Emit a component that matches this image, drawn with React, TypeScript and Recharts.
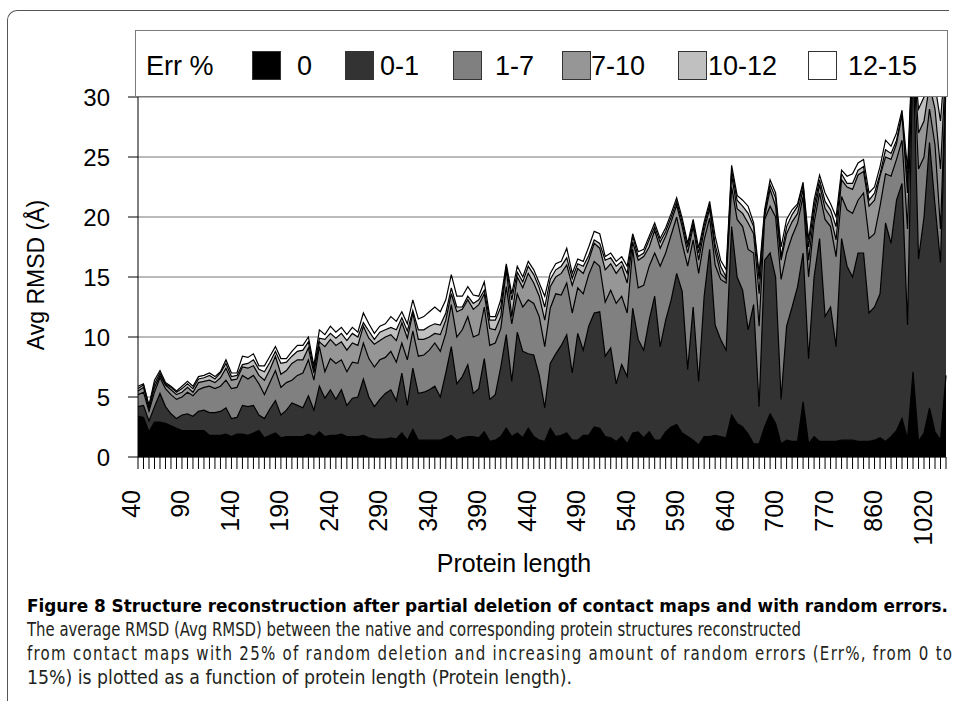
import { AreaChart, Area, XAxis, YAxis, CartesianGrid, Legend, Label } from 'recharts'

const FONT = "'Liberation Sans', Arial, Helvetica, sans-serif"
const CAPTION_FONT = "'DejaVu Sans Condensed', 'Liberation Sans Narrow', 'DejaVu Sans', sans-serif"

// every 9th category carries a label
const tickLabels = ['40', '90', '140', '190', '240', '290', '340', '390', '440', '490', '540', '590', '640', '700', '770', '860', '1020']
const LABEL_EVERY = 9
const yTicks = [0, 5, 10, 15, 20, 25, 30]

// Avg RMSD per error level
const err0 = [
  3.4, 3.3, 2.1, 2.9, 2.9, 2.8, 2.6, 2.4, 2.2, 2.2, 2.2, 2.2, 2.2, 1.8, 1.8, 1.8, 1.9, 1.7, 1.9, 1.9,
  1.8, 2.0, 2.2, 1.6, 1.8, 2.0, 1.6, 1.7, 1.7, 1.7, 1.7, 1.9, 1.7, 2.1, 1.7, 1.8, 1.8, 1.9, 1.7, 1.7,
  1.7, 1.8, 1.6, 1.5, 1.5, 1.5, 1.6, 1.5, 2.0, 1.4, 2.3, 1.4, 1.4, 1.4, 1.4, 1.4, 1.6, 1.8, 1.4, 1.6,
  1.7, 1.7, 1.6, 2.1, 1.3, 1.4, 1.7, 2.4, 1.7, 2.0, 1.6, 2.4, 1.7, 1.4, 1.3, 2.4, 1.7, 1.8, 2.0, 1.4,
  1.4, 1.8, 1.8, 2.5, 2.4, 1.7, 1.6, 1.3, 1.7, 1.1, 2.0, 2.1, 1.6, 2.1, 1.4, 1.4, 2.1, 2.5, 2.7, 2.0,
  1.7, 1.4, 1.0, 1.7, 1.7, 1.8, 1.7, 1.6, 3.5, 2.8, 2.5, 1.9, 1.1, 1.1, 2.5, 3.6, 2.8, 1.1, 1.4, 1.3,
  1.3, 4.6, 1.1, 1.7, 1.3, 1.3, 1.3, 1.3, 1.4, 1.4, 1.4, 1.3, 1.3, 1.3, 1.4, 1.6, 1.3, 1.7, 2.2, 3.2,
  1.5, 7.1, 1.3, 2.0, 4.1, 2.1, 1.4, 6.8,
]
const err0to1 = [
  4.2, 4.3, 3.0, 4.2, 5.3, 4.2, 3.6, 3.2, 3.5, 3.6, 3.4, 3.8, 3.9, 3.7, 3.7, 3.8, 4.1, 3.2, 3.3, 4.3,
  4.2, 4.3, 3.5, 3.2, 4.0, 4.7, 3.5, 3.9, 4.5, 4.3, 4.1, 5.1, 3.9, 5.9, 4.9, 5.6, 4.8, 5.6, 4.3, 4.9,
  5.0, 6.5, 5.0, 4.2, 4.8, 5.3, 5.6, 4.7, 7.0, 4.3, 7.4, 5.3, 5.4, 5.6, 5.9, 5.0, 7.0, 9.2, 6.1, 6.7,
  7.7, 5.3, 5.7, 8.2, 4.8, 5.2, 7.5, 10.2, 6.3, 10.4, 8.8, 8.6, 8.5, 6.8, 4.1, 7.8, 8.6, 9.3, 10.2, 7.0,
  10.3, 8.9, 10.9, 12.0, 12.1, 8.4, 9.1, 6.1, 7.7, 6.7, 12.4, 9.8, 8.9, 11.4, 13.4, 9.2, 11.4, 13.1, 15.3, 13.8,
  7.3, 12.5, 6.3, 13.4, 17.3, 11.0, 9.8, 8.9, 19.2, 15.0, 13.9, 10.6, 12.7, 4.2, 16.4, 17.0, 15.0, 4.8, 10.9, 12.5,
  14.2, 17.0, 8.2, 15.0, 18.2, 11.7, 12.5, 9.2, 18.2, 15.9, 15.0, 17.0, 17.0, 12.0, 12.5, 13.6, 19.5, 17.8, 21.4, 22.8,
  11.0, 34.0, 16.5, 20.0, 26.2, 21.0, 16.2, 31.0,
]
const err1to7 = [
  5.2, 5.4, 3.8, 5.4, 6.6, 5.7, 5.2, 4.8, 5.0, 5.4, 5.1, 5.6, 5.8, 5.9, 5.7, 5.9, 6.4, 5.7, 5.8, 6.8,
  6.5, 6.8, 6.1, 5.2, 6.2, 7.2, 5.8, 6.2, 6.4, 6.8, 7.0, 8.1, 6.4, 9.2, 7.1, 8.2, 7.8, 8.1, 7.1, 7.9,
  7.8, 9.5, 8.2, 7.5, 8.1, 8.3, 8.8, 7.9, 9.5, 8.1, 10.5, 8.4, 8.5, 8.9, 9.5, 8.8, 10.3, 12.7, 10.0, 10.6,
  11.7, 10.0, 10.2, 12.5, 9.3, 9.5, 10.7, 14.2, 11.1, 13.6, 12.5, 13.1, 12.8, 11.7, 9.2, 12.4, 13.6, 13.5, 14.5, 12.0,
  14.1, 13.6, 15.2, 16.3, 15.9, 12.9, 13.9, 12.8, 13.4, 12.0, 17.3, 14.1, 14.3, 15.9, 17.0, 15.9, 17.0, 18.5, 20.0, 17.8,
  15.9, 18.1, 15.3, 18.1, 19.9, 16.0, 14.8, 14.5, 22.5, 19.8, 19.2, 17.3, 17.0, 10.9, 19.8, 20.9, 20.0, 14.8, 17.0, 18.4,
  19.5, 21.7, 15.0, 19.5, 22.0, 19.8, 19.2, 16.7, 21.7, 20.6, 20.3, 21.4, 22.0, 18.2, 18.6, 20.9, 23.6, 23.4, 24.8, 26.4,
  19.0, 34.3, 24.0, 25.0, 29.0, 26.0, 19.0, 32.0,
]
const err7to10 = [
  5.5, 5.8, 4.0, 5.8, 6.8, 6.0, 5.6, 5.2, 5.4, 5.8, 5.4, 6.2, 6.3, 6.4, 6.2, 6.6, 7.4, 6.4, 6.5, 7.5,
  7.4, 7.6, 6.8, 6.4, 7.3, 8.4, 6.9, 7.2, 7.8, 8.1, 8.1, 9.1, 7.0, 9.6, 9.2, 9.8, 9.3, 9.6, 8.9, 9.5,
  9.3, 10.9, 9.9, 9.4, 9.7, 10.0, 10.2, 9.7, 11.2, 9.9, 12.0, 9.8, 9.8, 10.0, 10.3, 10.2, 11.4, 13.6, 12.1, 12.3,
  13.1, 12.3, 12.7, 13.6, 10.7, 10.6, 11.7, 15.6, 11.7, 15.0, 14.1, 15.3, 14.5, 13.4, 11.4, 14.2, 15.0, 15.3, 16.0, 14.3,
  15.7, 15.3, 16.4, 17.8, 17.4, 15.6, 16.1, 15.3, 15.9, 14.5, 17.9, 16.4, 16.7, 17.5, 18.9, 17.4, 18.4, 19.6, 21.0, 19.2,
  17.0, 19.2, 16.4, 18.9, 20.7, 17.2, 15.3, 14.8, 23.5, 20.7, 20.3, 19.5, 18.6, 13.6, 20.0, 22.3, 20.9, 16.4, 18.6, 19.6,
  20.3, 22.3, 16.4, 20.3, 22.7, 20.7, 20.0, 18.1, 23.1, 22.5, 22.3, 23.5, 23.8, 20.9, 21.4, 23.4, 25.0, 24.8, 26.1, 28.5,
  22.0, 34.5, 27.0, 28.0, 31.0, 29.0, 24.0, 33.0,
]
const err10to12 = [
  5.7, 6.0, 4.2, 6.1, 7.0, 6.1, 5.8, 5.4, 5.7, 6.1, 5.7, 6.5, 6.6, 6.8, 6.5, 7.0, 7.8, 6.7, 6.8, 7.7,
  7.8, 8.1, 7.3, 7.1, 7.9, 8.8, 7.8, 7.9, 8.4, 8.8, 8.9, 9.6, 7.3, 9.9, 9.8, 10.3, 9.9, 10.3, 9.7, 10.3,
  10.0, 11.2, 10.5, 9.8, 10.4, 10.6, 10.8, 10.6, 11.6, 10.5, 12.2, 10.6, 10.6, 10.9, 11.1, 11.0, 12.0, 14.1, 12.5, 12.5,
  13.4, 12.8, 13.1, 13.9, 11.4, 11.4, 12.5, 15.9, 13.1, 15.4, 14.6, 15.9, 15.2, 14.1, 12.5, 14.8, 15.6, 15.9, 16.6, 14.9,
  16.1, 15.9, 16.8, 18.1, 17.8, 16.4, 16.6, 15.9, 16.3, 15.3, 18.4, 16.7, 17.0, 18.1, 19.2, 17.9, 18.8, 20.0, 21.3, 19.6,
  17.5, 19.5, 17.0, 19.3, 21.0, 17.7, 15.9, 15.0, 23.9, 21.4, 20.9, 20.3, 19.2, 14.8, 20.3, 22.7, 21.6, 16.7, 19.2, 20.2,
  20.9, 22.7, 17.5, 20.9, 23.1, 21.3, 20.6, 19.2, 23.6, 22.8, 22.8, 23.9, 24.2, 21.4, 22.0, 23.6, 25.6, 25.3, 26.4, 28.6,
  23.0, 34.7, 29.0, 30.0, 32.5, 31.0, 28.0, 34.0,
]
const err12to15 = [
  5.9, 6.1, 4.3, 6.4, 7.2, 6.2, 5.9, 5.5, 5.9, 6.3, 5.9, 6.7, 6.8, 7.0, 6.7, 7.1, 8.1, 7.0, 7.0, 8.4,
  8.3, 8.6, 7.6, 7.6, 8.4, 9.2, 8.2, 8.2, 8.8, 9.3, 9.3, 10.0, 7.6, 10.6, 10.2, 10.9, 10.4, 10.8, 10.2, 10.8,
  10.4, 12.0, 11.1, 10.3, 10.9, 11.1, 11.7, 11.3, 12.1, 11.1, 13.1, 11.5, 11.7, 12.1, 12.5, 12.1, 13.1, 15.2, 13.4, 13.4,
  14.2, 13.5, 13.4, 14.6, 11.7, 11.7, 13.1, 16.1, 13.6, 15.9, 15.0, 16.3, 15.6, 14.5, 13.4, 15.3, 16.1, 16.3, 17.4, 15.3,
  16.5, 16.3, 17.5, 18.8, 18.6, 16.7, 17.0, 16.3, 16.7, 15.9, 18.6, 17.1, 17.3, 18.4, 19.5, 18.2, 19.1, 20.3, 21.6, 19.9,
  17.8, 19.8, 17.4, 19.6, 21.3, 18.4, 16.4, 15.6, 24.3, 21.8, 21.4, 20.9, 19.5, 15.3, 20.6, 23.1, 22.0, 17.5, 19.8, 20.6,
  21.1, 22.9, 18.1, 21.4, 23.5, 22.0, 21.1, 20.0, 23.9, 23.4, 23.6, 24.5, 24.8, 22.0, 22.5, 24.2, 26.4, 25.9, 27.0, 28.9,
  24.0, 35.0, 31.0, 32.0, 33.5, 32.5, 31.0, 35.0,
]

const series = [
  { key: 'e0', name: '0', fill: '#000000', values: err0 },
  { key: 'e01', name: '0-1', fill: '#333333', values: err0to1 },
  { key: 'e17', name: '1-7', fill: '#808080', values: err1to7 },
  { key: 'e710', name: '7-10', fill: '#969696', values: err7to10 },
  { key: 'e1012', name: '10-12', fill: '#c0c0c0', values: err10to12 },
  { key: 'e1215', name: '12-15', fill: '#ffffff', values: err12to15 },
]

const chartData = err0.map((_, i) => {
  const row: Record<string, number> = { idx: i }
  series.forEach((s) => {
    row[s.key] = s.values[i]
  })
  return row
})

// x offsets inside the legend box
const legendSlots = [
  { swatch: 117, text: 162 },
  { swatch: 210, text: 245 },
  { swatch: 318, text: 360 },
  { swatch: 427, text: 456 },
  { swatch: 543, text: 573 },
  { swatch: 673, text: 713 },
]

const LegendBox = () => (
  <svg width={813} height={67} style={{ display: 'block' }}>
    <rect x={0.5} y={0.5} width={812} height={66} fill="#fff" stroke="#7a7a7a" />
    <text x={11} y={45} fontSize={27} fontFamily={FONT} fill="#000">
      Err %
    </text>
    {series.map((s, i) => (
      <g key={s.key}>
        <rect x={legendSlots[i].swatch + 0.5} y={21.5} width={28} height={28} fill={s.fill} stroke="#333" />
        <text x={legendSlots[i].text} y={45} fontSize={27} fontFamily={FONT} fill="#000">
          {s.name}
        </text>
      </g>
    ))}
  </svg>
)

const XTick = (props: any) => {
  const { x, y, index } = props
  const label = index % LABEL_EVERY === 0 ? tickLabels[index / LABEL_EVERY] : undefined
  const ax = x + 2
  const ay = y + 33
  return (
    <g>
      <line x1={x} y1={y} x2={x} y2={y + 12} stroke="#000" strokeWidth={1} />
      {label && (
        <text
          x={ax}
          y={ay}
          transform={`rotate(-90 ${ax} ${ay})`}
          textAnchor="end"
          fontSize={25}
          fontFamily={FONT}
          fill="#000"
        >
          {label}
        </text>
      )}
    </g>
  )
}

// body lines share one horizontal squeeze; the justified third line gets its extra width from spacing
const BODY_SCALE = 0.88
const bodyLines = [
  { text: 'The average RMSD (Avg RMSD) between the native and corresponding protein structures reconstructed', width: 774, adjust: 'spacingAndGlyphs' },
  { text: 'from contact maps with 25% of random deletion and increasing amount of random errors (Err%, from 0 to', width: 925, adjust: 'spacing' },
  { text: '15%) is plotted as a function of protein length (Protein length).', width: 545, adjust: 'spacingAndGlyphs' },
]

export default function App() {
  return (
    <div style={{ position: 'absolute', left: 0, top: 0, width: 955, height: 701, background: '#fff', overflow: 'hidden' }}>
      <div
        style={{
          position: 'absolute',
          left: 7,
          top: 10,
          width: 941,
          height: 720,
          borderTop: '1px solid #555',
          borderLeft: '1px solid #555',
          borderTopLeftRadius: 10,
        }}
      />
      <div style={{ position: 'absolute', left: 0, top: 0 }}>
        <AreaChart width={955} height={590} data={chartData} margin={{ top: 37, right: 9, bottom: 0, left: 0 }}>
          <CartesianGrid vertical={false} stroke="#777" />
          <XAxis
            dataKey="idx"
            interval={0}
            tickLine={false}
            tickSize={0}
            tickMargin={0}
            height={133}
            axisLine={{ stroke: '#000' }}
            tick={<XTick />}
          >
            <Label
              content={() => (
                <text x={514} y={572} textAnchor="middle" fontSize={25} fontFamily={FONT} fill="#000">
                  Protein length
                </text>
              )}
            />
          </XAxis>
          <YAxis
            width={138}
            domain={[0, 35]}
            ticks={yTicks}
            interval={0}
            tickSize={10}
            tickMargin={18}
            axisLine={{ stroke: '#000' }}
            tickLine={{ stroke: '#000' }}
            tick={{ fontSize: 24, fill: '#000', fontFamily: FONT }}
          >
            <Label
              content={() => (
                <text
                  x={44}
                  y={275}
                  transform="rotate(-90 44 275)"
                  textAnchor="middle"
                  fontSize={23}
                  fontFamily={FONT}
                  fill="#000"
                >
                  Avg RMSD (Å)
                </text>
              )}
            />
          </YAxis>
          {[...series].reverse().map((s) => (
            <Area
              key={s.key}
              type="linear"
              dataKey={s.key}
              name={s.name}
              fill={s.fill}
              fillOpacity={1}
              stroke="#000"
              strokeWidth={1.2}
              dot={false}
              activeDot={false}
              isAnimationActive={false}
            />
          ))}
          <Legend
            layout="horizontal"
            align="center"
            verticalAlign="middle"
            width={813}
            height={67}
            wrapperStyle={{ left: 135, top: 30, width: 813, height: 67 }}
            content={() => <LegendBox />}
          />
        </AreaChart>
      </div>
      <svg width={955} height={116} style={{ position: 'absolute', left: 0, top: 585 }}>
        <text
          x={27}
          y={27}
          textLength={921}
          lengthAdjust="spacingAndGlyphs"
          fontSize={17}
          fontWeight="bold"
          fontFamily={CAPTION_FONT}
          fill="#000"
        >
          Figure 8 Structure reconstruction after partial deletion of contact maps and with random errors.
        </text>
        <g transform={`translate(27 0) scale(${BODY_SCALE} 1)`}>
          {bodyLines.map((line, i) => (
            <text
              key={i}
              x={0}
              y={51 + i * 24}
              textLength={line.width / BODY_SCALE}
              lengthAdjust={line.adjust}
              fontSize={19}
              fontFamily={CAPTION_FONT}
              fill="#231f20"
            >
              {line.text}
            </text>
          ))}
        </g>
      </svg>
    </div>
  )
}
